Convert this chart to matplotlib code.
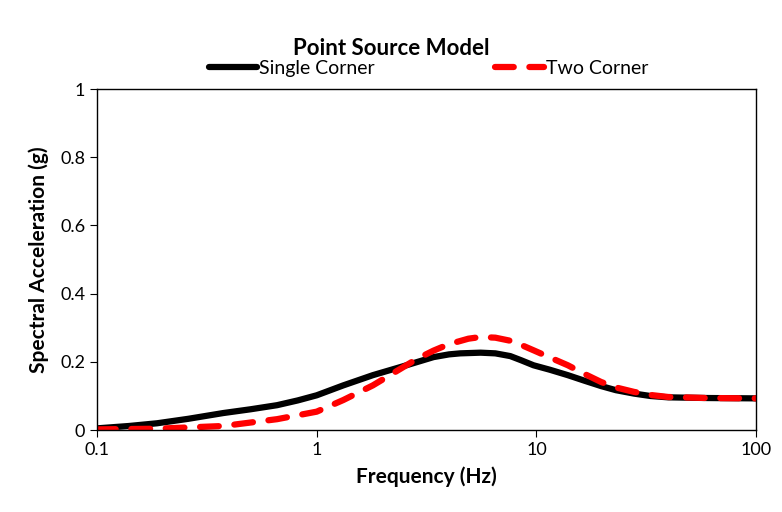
import matplotlib
matplotlib.use("Agg")
import matplotlib.pyplot as plt

plt.rcParams['font.family'] = ['Lato', 'DejaVu Sans']

freq_single = [0.1, 0.14, 0.188, 0.26, 0.376, 0.5, 0.66, 0.82, 1.0, 1.32, 1.8, 2.41, 3.4, 4.0, 4.5, 5.57, 6.5, 7.6, 8.5, 9.7,
               11.5, 13.9, 16.5, 19.7, 23, 27.8, 33, 39.8, 60, 100]
sa_single = [0.005, 0.012, 0.02, 0.033, 0.05, 0.061, 0.073, 0.087, 0.102, 0.131, 0.161, 0.185, 0.214, 0.222, 0.225, 0.227, 0.225, 0.217, 0.205, 0.19,
             0.177, 0.161, 0.145, 0.129, 0.117, 0.107, 0.1, 0.096, 0.094, 0.093]

freq_two = [0.1, 0.188, 0.376, 0.66, 1.0, 1.32, 1.8, 2.41, 2.88, 3.4, 4.0, 4.9, 5.57, 6.5, 7.6, 8.5, 9.7, 11.5, 13.9, 16.5,
            19.7, 23, 27.8, 33, 39.8, 60, 100]
sa_two = [0.002, 0.004, 0.012, 0.032, 0.054, 0.088, 0.131, 0.18, 0.21, 0.233, 0.252, 0.268, 0.273, 0.271, 0.262, 0.25, 0.234, 0.213, 0.19, 0.165,
          0.141, 0.125, 0.112, 0.103, 0.097, 0.094, 0.093]

fig = plt.figure(figsize=(7.82, 5.12), dpi=100)
ax = fig.add_axes([0.124, 0.160, 0.843, 0.666])

ax.plot(freq_single, sa_single, color='black', lw=4.5, label='Single Corner', solid_capstyle='round')
ax.plot(freq_two, sa_two, color='red', lw=4.5, ls=(0, (3, 2.5)), label='Two Corner', dash_capstyle='round')

ax.set_xscale('log')
ax.set_xlim(0.1, 100)
ax.set_ylim(0, 1)
ax.set_xticks([0.1, 1, 10, 100])
ax.set_xticklabels(['0.1', '1', '10', '100'])
ax.minorticks_off()
ax.set_yticks([0, 0.2, 0.4, 0.6, 0.8, 1])
ax.set_yticklabels(['0', '0.2', '0.4', '0.6', '0.8', '1'])
ax.tick_params(direction='out', length=5, labelsize=13, color='black')
for s in ax.spines.values():
    s.set_linewidth(1)

ax.set_xlabel('Frequency (Hz)', fontsize=15, fontweight='bold', labelpad=6)
ax.set_ylabel('Spectral Acceleration (g)', fontsize=15, fontweight='bold', labelpad=8)

fig.text(0.5, 0.905, 'Point Source Model', ha='center', va='center', fontsize=16, fontweight='bold')
fig.legend(loc='center', bbox_to_anchor=(0.548, 0.866), ncol=2, frameon=False, fontsize=14,
           handlelength=2.5, handletextpad=0.1, columnspacing=6.2)

fig.savefig('out.png', dpi=100)
